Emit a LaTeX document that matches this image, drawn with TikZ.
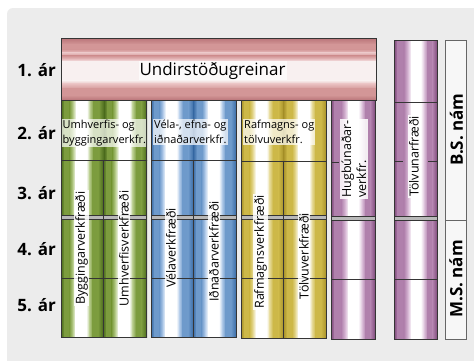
\documentclass[tikz,border=0pt]{standalone}
\usepackage{fontspec}
\setmainfont{Open Sans}
\definecolor{bgc}{HTML}{ECECEC}
\definecolor{gD}{HTML}{4A6A1C}\definecolor{gM}{HTML}{7C9C3E}\definecolor{gL}{HTML}{BACE90}\colorlet{gW}{white}
\definecolor{bD}{HTML}{3A6CA6}\definecolor{bM}{HTML}{6E9ACB}\definecolor{bL}{HTML}{B5CDEA}\colorlet{bW}{white}
\definecolor{yD}{HTML}{A8922A}\definecolor{yM}{HTML}{CDB848}\definecolor{yL}{HTML}{E6DA98}\colorlet{yW}{white}
\definecolor{pD}{HTML}{7E4A7A}\definecolor{pM}{HTML}{B080AC}\definecolor{pL}{HTML}{DCC0DA}\colorlet{pW}{white}
\definecolor{rD}{HTML}{B97478}\definecolor{rM}{HTML}{D39697}\definecolor{rL}{HTML}{E8BFC0}\definecolor{rW}{HTML}{F8F0F0}
\definecolor{edge}{HTML}{353535}
\def\collist{0/.08/D/M, .08/.2/M/M, .2/.28/M/L, .28/.35/L/W, .35/.6/W/W, .6/.67/W/L, .67/.75/L/M, .75/.88/M/M, .88/1/M/D}
\def\purplist{0/.08/D/M, .08/.23/M/M, .23/.33/M/L, .33/.4/L/W, .4/.62/W/W, .62/.7/W/L, .7/.78/L/M, .78/.9/M/M, .9/1/M/D}
\def\redlist{0/.1/D/M, .1/.18/M/M, .18/.24/M/L, .24/.29/L/M, .29/.34/M/L, .34/.38/L/W, .38/.68/W/W, .68/.74/W/L, .74/.82/L/M, .82/.92/M/M, .92/1/M/D}
% #1 x0, #2 x1, #3 y0, #4 y1, #5 colour prefix, #6 list
\newcommand{\cstripes}[6]{%
 \foreach \sa/\sb/\sp/\sq in #6 {%
  \shade[left color=#5\sp, right color=#5\sq]
   ({#1+\sa*(#2-#1)},#3) rectangle ({#1+\sb*(#2-#1)+0.3},#4);}}
\newcommand{\rstripes}[6]{%
 \foreach \sa/\sb/\sp/\sq in #6 {%
  \shade[top color=#5\sp, bottom color=#5\sq]
   (#1,{#3+\sa*(#4-#3)}) rectangle (#2,{#3+\sb*(#4-#3)+0.3});}}
\tikzset{
 outline/.style={draw=edge, line width=0.8pt},
 year/.style={font=\fontsize{17}{20}\selectfont\bfseries, anchor=east, inner sep=0pt},
 vlabel/.style={rotate=90, fill=white, fill opacity=0.85, text opacity=1, inner sep=1.2pt,
   font=\fontsize{12.5}{15}\selectfont},
 hlabel/.style={anchor=north west, align=left, fill=white, fill opacity=0.7, text opacity=1,
   inner sep=1pt, font=\fontsize{11}{15}\selectfont},
 namlabel/.style={rotate=90, inner sep=0pt, font=\fontsize{17}{20}\selectfont\bfseries},
 thin/.style={draw=edge, line width=0.5pt}
}
\newcommand{\dblline}[3]{%
 \fill[gray!55] (#1,#3-1.8) rectangle (#2,#3+1.8);
 \draw[thin] (#1,#3-1.8) -- (#2,#3-1.8);
 \draw[thin] (#1,#3+1.8) -- (#2,#3+1.8);}
\begin{document}
\begin{tikzpicture}[x=1pt,y=-1pt]
\useasboundingbox (0,0) rectangle (474,360);
\fill[white] (0,0) rectangle (474,360);
\fill[bgc, rounded corners=6pt] (7,8) -- (480,8) -- (480,370) -- (7,370) -- cycle;
% red bar
\rstripes{61}{376}{38}{100}{r}{\redlist}
% green
\cstripes{61}{103}{160}{337}{g}{\collist}
\cstripes{103}{146.7}{160}{337}{g}{\collist}
\cstripes{61}{104}{100}{160}{g}{\collist}
\cstripes{104}{146.7}{100}{160}{g}{\collist}
% blue
\cstripes{151}{193}{160}{337}{b}{\collist}
\cstripes{193}{236}{160}{337}{b}{\collist}
\cstripes{151}{193.5}{100}{160}{b}{\collist}
\cstripes{193.5}{236}{100}{160}{b}{\collist}
% yellow
\cstripes{241}{283.5}{161}{338}{y}{\collist}
\cstripes{283.5}{326}{161}{338}{y}{\collist}
\cstripes{241}{283.5}{100}{161}{y}{\collist}
\cstripes{283.5}{326}{100}{161}{y}{\collist}
% purple
\cstripes{331}{375}{100.5}{339}{p}{\purplist}
\cstripes{394}{437}{40}{339}{p}{\purplist}
% B.S. / M.S.
\fill[white!60!bgc] (445,40.5) rectangle (466,339);
% row lines
\dblline{61}{146.7}{217}
\dblline{151}{236}{217}
\dblline{241}{326}{217.5}
\dblline{331}{375}{218}
\dblline{394}{437}{218}
\draw[thin] (61,278) -- (146.7,278);
\draw[thin] (151,278) -- (236,278);
\draw[thin] (241,278.5) -- (326,278.5);
\draw[thin] (331,279) -- (375,279);
\draw[thin] (394,279) -- (437,279);
\draw[thin] (394,102.7) -- (437,102.7);
\draw[thin] (394,161.7) -- (403,161.7);
\draw[thin] (428,161.7) -- (437,161.7);
\draw[thin] (331,162) -- (339,162);
% labels
\node[fill=white, fill opacity=0.7, text opacity=1, inner sep=1pt, anchor=base,
  font=\fontsize{17}{20}\selectfont] (undir) at (212.5,75) {Undirstöðugreinar};
\node[hlabel] (hgreen) at (61.5,119) {Umhverfis- og\\byggingarverkfr.};
\node[hlabel] (hblue) at (153,119) {Véla-, efna- og\\iðnaðarverkfr.};
\node[hlabel] (hyellow) at (243,119) {Rafmagns- og\\tölvuverkfr.};
\node[vlabel] (bygg) at (81.7,248) {Byggingarverkfræði};
\node[vlabel] (umhv) at (124,248.5) {Umhverfisverkfræði};
\node[vlabel] (vela) at (171,248) {Vélaverkfræði};
\node[vlabel] (idn) at (214,251.5) {Iðnaðarverkfræði};
\node[vlabel] (raf) at (260.7,252) {Rafmagnsverkfræði};
\node[vlabel] (tolvu) at (304,256) {Tölvuverkfræði};
\node[vlabel, align=left, anchor=west] (hug) at (354,199) {Hugbúnaðar-\\verkfr.};
\node[vlabel] (tolvun) at (414,156.5) {Tölvunarfræði};
\node[namlabel] (bs) at (456.5,129.5) {B.S. nám};
\node[namlabel] (ms) at (456,279) {M.S. nám};
% year labels
\node[year] (y1) at (56,70) {1. ár};
\node[year] (y2) at (56,133) {2. ár};
\node[year] (y3) at (56,193) {3. ár};
\node[year] (y4) at (56,249) {4. ár};
\node[year] (y5) at (56,305) {5. ár};
% outlines
\draw[outline] (61,38) rectangle (376,100);
\draw[outline] (61,100) rectangle (146.7,337);
\draw[outline] (61,160) -- (146.7,160) (103,160) -- (103,337);
\draw[outline] (151,100) rectangle (236,337);
\draw[outline] (151,160) -- (236,160) (193,160) -- (193,337);
\draw[outline] (241,100) rectangle (326,338);
\draw[outline] (241,161) -- (326,161) (283.5,161) -- (283.5,338);
\draw[outline] (331,100.5) rectangle (375,339);
\draw[outline] (394,40) rectangle (437,339);
\draw[draw=gray!80!black, line width=0.6pt] (445,40.5) rectangle (466,339) (445,220) -- (466,220);
\end{tikzpicture}
\end{document}
